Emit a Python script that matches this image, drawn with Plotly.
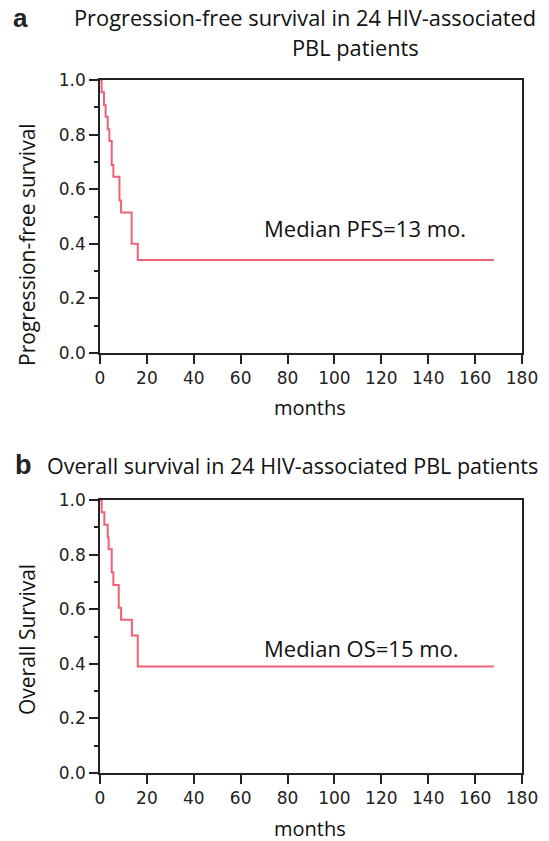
import plotly.graph_objects as go

# Panel a: progression-free survival (step points, months / survival)
pfs_months = [0, 0.7, 1.7, 2.4, 3.3, 4.0, 5.0, 5.7, 8.3, 9.0, 13.5, 16.1, 168]
pfs_surv = [1.0, 0.955, 0.908, 0.865, 0.82, 0.777, 0.689, 0.646, 0.559, 0.515, 0.40, 0.341, 0.341]

# Panel b: overall survival
os_months = [0, 0.7, 1.85, 3.3, 3.7, 5.0, 5.7, 8.0, 9.0, 13.6, 16.1, 168]
os_surv = [1.0, 0.955, 0.909, 0.863, 0.82, 0.735, 0.689, 0.605, 0.561, 0.504, 0.39, 0.39]

x_ticks = [0, 20, 40, 60, 80, 100, 120, 140, 160, 180]
y_ticks = [0.0, 0.2, 0.4, 0.6, 0.8, 1.0]

W, H = 549, 841
line_color = "rgb(242,96,116)"
txt_font = "Open Sans"
tick_font = "DejaVu Sans"

fig = go.Figure()
fig.add_trace(go.Scatter(x=pfs_months, y=pfs_surv, mode="lines", line=dict(shape="hv", color=line_color, width=2),
                         xaxis="x", yaxis="y", showlegend=False, hoverinfo="skip"))
fig.add_trace(go.Scatter(x=os_months, y=os_surv, mode="lines", line=dict(shape="hv", color=line_color, width=2),
                         xaxis="x2", yaxis="y2", showlegend=False, hoverinfo="skip"))

xdom = [100 / W, 522 / W]
ydom_a = [1 - 353 / H, 1 - 80 / H]
ydom_b = [1 - 773 / H, 1 - 500 / H]

def xaxis(anchor):
    return dict(domain=xdom, anchor=anchor, range=[0, 180], tickvals=x_ticks, ticks="outside", ticklen=9,
                tickwidth=1.5, tickcolor="#222", showline=True, linecolor="#222", linewidth=1.5, mirror=True,
                showgrid=False, zeroline=False, automargin=False,
                tickfont=dict(family=tick_font, size=17, color="#222"))

def yaxis(anchor, dom):
    return dict(domain=dom, anchor=anchor, range=[0, 1], tickvals=y_ticks, tickformat=".1f", ticks="outside",
                ticklen=9, tickwidth=1.5, tickcolor="#222", showline=True, linecolor="#222", linewidth=1.5,
                mirror=True, showgrid=False, zeroline=False, automargin=False,
                tickfont=dict(family=tick_font, size=17, color="#222"),
                minor=dict(dtick=0.1, ticks="outside", ticklen=4, tickwidth=1.5, tickcolor="#222", showgrid=False))

fig.update_layout(
    template="none",
    width=W, height=H, margin=dict(l=0, r=0, t=0, b=0, autoexpand=False),
    paper_bgcolor="white", plot_bgcolor="white",
    xaxis=xaxis("y"), yaxis=yaxis("x", ydom_a),
    xaxis2=xaxis("y2"), yaxis2=yaxis("x2", ydom_b),
)

def ann(text, x, y, size, family=txt_font, xanchor="center", textangle=0, bold=False, color="#111"):
    if bold:
        text = "<b>" + text + "</b>"
    fig.add_annotation(text=text, x=x / W, y=1 - y / H, xref="paper", yref="paper", showarrow=False,
                       xanchor=xanchor, yanchor="middle", textangle=textangle,
                       font=dict(family=family, size=size, color=color))

# Panel labels and titles
ann("a", 11, 18, 26, family="Liberation Sans", xanchor="left", bold=True, color="#222")
ann("Progression-free survival in 24 HIV-associated", 305, 18, 21.8)
ann("PBL patients", 355, 48, 21.8)
ann("b", 13, 465, 27, family="Liberation Sans", xanchor="left", bold=True, color="#222")
ann("Overall survival in 24 HIV-associated PBL patients", 292, 465, 21.5)

# Axis titles
ann("Progression-free survival", 27, 245, 21, textangle=-90)
ann("months", 310, 408, 20)
ann("Overall Survival", 27, 640, 21, textangle=-90)
ann("months", 310, 828, 20)

# Median annotations (data coords)
fig.add_annotation(text="Median PFS=13 mo.", x=69, y=0.458, xref="x", yref="y", xanchor="left", showarrow=False,
                   font=dict(family=txt_font, size=22, color="#111"))
fig.add_annotation(text="Median OS=15 mo.", x=69, y=0.457, xref="x2", yref="y2", xanchor="left", showarrow=False,
                   font=dict(family=txt_font, size=22, color="#111"))

fig.write_html("out.html", config={"displayModeBar": False},
               post_script="document.body.style.margin='0';document.body.style.overflow='hidden';")
